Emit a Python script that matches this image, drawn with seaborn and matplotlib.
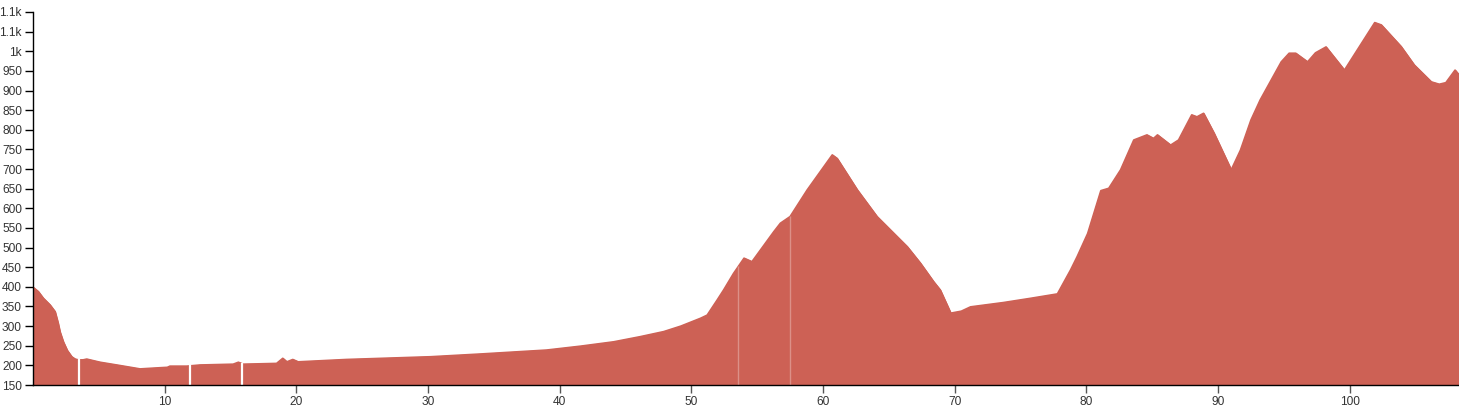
import numpy as np
import pandas as pd
import matplotlib
matplotlib.use("Agg")
import matplotlib.pyplot as plt
import seaborn as sns

# ---- data (distance in km, elevation in m) ----
distance_km = [0, 0.4, 0.78, 1.29, 1.67, 1.9, 2.05, 2.3, 2.6, 2.94, 3.2, 3.44, 3.8, 4.08,
               5.09, 6.36, 8.13, 9.65, 10.2, 10.4, 11.68, 12.69, 15.2, 15.6, 15.96, 18.5,
               18.97, 19.28, 19.73, 20.14, 23.8, 30.2, 34, 39, 41.6, 44.1, 46.1, 47.9,
               49.2, 50.7, 51.2, 51.95, 52.45, 53.2, 54.0, 54.6, 56.25, 56.76, 57.5,
               58.8, 60.7, 61.07, 62.6, 64.1, 66.4, 67.4, 68.4, 68.9, 69.7, 70.5, 71.2,
               73.7, 75.8, 77.8, 78.8, 79.3, 80.1, 81.1, 81.7, 82.6, 83.6, 84.6, 85.1,
               85.4, 86.4, 87.0, 88.0, 88.4, 88.9, 89.7, 91.0, 91.7, 92.5, 93.2, 94.8,
               95.4, 95.9, 96.8, 97.4, 98.2, 99.6, 101.9, 102.4, 103.9, 104.9, 106.2,
               106.8, 107.3, 108.0, 108.3]
elevation_m = [399, 388, 371, 354, 337, 308, 285, 260, 238, 222, 216, 214, 214, 216,
               208, 201, 191, 194, 195, 198, 198, 201, 203, 208, 203, 205,
               218, 209, 215, 209, 215, 222, 229, 239, 249, 260, 273, 286,
               300, 320, 328, 366, 392, 434, 473, 464, 540, 562, 579,
               647, 736, 727, 647, 579, 502, 460, 413, 392, 333, 338, 349,
               360, 371, 382, 443, 477, 536, 645, 651, 698, 774, 787, 778,
               787, 761, 774, 838, 833, 842, 791, 698, 748, 825, 876, 973,
               995, 995, 973, 996, 1011, 952, 1073, 1067, 1012, 965, 922,
               916, 920, 952, 940]

segment_breaks_km = [3.5, 11.93, 15.88]        # white gaps between segments
faint_breaks_km = [53.57, 57.52]                # faint segment lines

y_ticks = [150, 200, 250, 300, 350, 400, 450, 500, 550, 600, 650, 700, 750,
           800, 850, 900, 950, 1000, 1050, 1100]
y_tick_labels = ["150", "200", "250", "300", "350", "400", "450", "500", "550",
                 "600", "650", "700", "750", "800", "850", "900", "950", "1k",
                 "1.1k", "1.1k"]
x_ticks = [10, 20, 30, 40, 50, 60, 70, 80, 90, 100]
x_tick_labels = [str(v) for v in x_ticks]

FILL = "#cd6155"

sns.set_style("ticks")
plt.rcParams["font.family"] = ["Liberation Sans", "DejaVu Sans"]

df = pd.DataFrame({"km": distance_km, "elev": elevation_m})

fig = plt.figure(figsize=(14.59, 4.09), dpi=100)
ax = fig.add_axes([33 / 1459, 24 / 409, (1459 - 33) / 1459, (385 - 12) / 409])

ax.fill_between(df["km"], 150, df["elev"], facecolor=FILL, edgecolor=FILL,
                linewidth=1.0, zorder=1)
sns.lineplot(data=df, x="km", y="elev", ax=ax, color=FILL, linewidth=1.2, zorder=2)

for b in segment_breaks_km:
    ax.vlines(b, 150, np.interp(b, distance_km, elevation_m) + 1, color="white",
              linewidth=1.6, zorder=3)
for b in faint_breaks_km:
    ax.vlines(b, 150, np.interp(b, distance_km, elevation_m), color="white",
              linewidth=1.0, alpha=0.3, zorder=3)

ax.set_xlim(0, 108.3)
ax.set_ylim(150, 1100)
ax.set_yticks(y_ticks)
ax.set_yticklabels(y_tick_labels)
ax.set_xticks(x_ticks)
ax.set_xticklabels(x_tick_labels)
ax.set_xlabel("")
ax.set_ylabel("")

for s in ["top", "right"]:
    ax.spines[s].set_visible(False)
for s in ["left", "bottom"]:
    ax.spines[s].set_color("black")
    ax.spines[s].set_linewidth(1.0)
    ax.spines[s].set_zorder(5)

ax.tick_params(axis="y", length=6, width=1, color="black", pad=2,
               labelsize=8.6, labelcolor="#333333")
ax.tick_params(axis="x", length=6, width=1, color="#555555", pad=2,
               labelsize=8.6, labelcolor="#333333")

fig.savefig("out.png", dpi=100, facecolor="white")
